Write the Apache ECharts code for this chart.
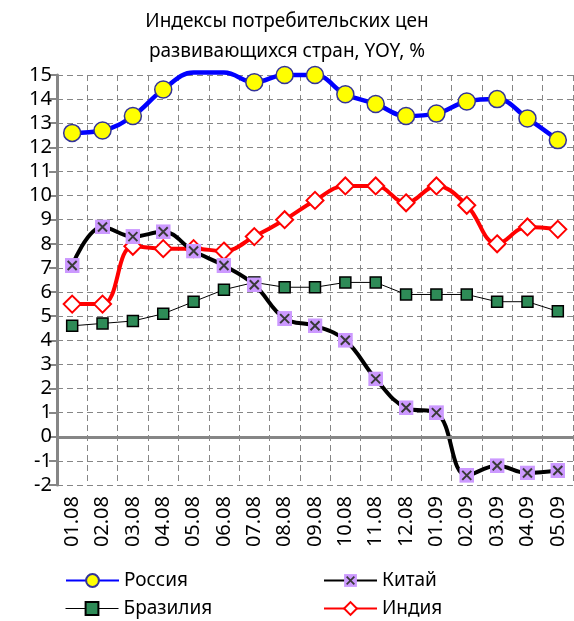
<!DOCTYPE html>
<html lang="ru">
<head>
<meta charset="UTF-8">
<title>Индексы потребительских цен</title>
<style>
  html, body { margin: 0; padding: 0; background: #fff; }
  #main { width: 574px; height: 621px; }
</style>
</head>
<body>
<div id="main"></div>
<script src="https://cdn.jsdelivr.net/npm/echarts@6/dist/echarts.min.js"></script>
<script>
// месяцы
var months = ['01.08', '02.08', '03.08', '04.08', '05.08', '06.08', '07.08', '08.08', '09.08',
              '10.08', '11.08', '12.08', '01.09', '02.09', '03.09', '04.09', '05.09'];

// значения, % г/г
var russia = [12.6, 12.7, 13.3, 14.4, 15.1, 15.1, 14.7, 15.0, 15.0, 14.2, 13.8, 13.3, 13.4, 13.9, 14.0, 13.2, 12.3];
var china  = [7.1, 8.7, 8.3, 8.5, 7.7, 7.1, 6.3, 4.9, 4.6, 4.0, 2.4, 1.2, 1.0, -1.6, -1.2, -1.5, -1.4];
var brazil = [4.6, 4.7, 4.8, 5.1, 5.6, 6.1, 6.4, 6.2, 6.2, 6.4, 6.4, 5.9, 5.9, 5.9, 5.6, 5.6, 5.2];
var india  = [5.5, 5.5, 7.9, 7.8, 7.8, 7.7, 8.3, 9.0, 9.8, 10.4, 10.4, 9.7, 10.4, 9.6, 8.0, 8.7, 8.6];

var yMin = -2, yMax = 15;

var font = 'Noto Sans';
var grey = '#868686';

// квадрат с крестиком для Китая
var chinaSvg = '<svg xmlns="http://www.w3.org/2000/svg" width="15" height="15">' +
    '<rect width="15" height="15" fill="#CC99FF"/>' +
    '<path d="M3 3L12 12M12 3L3 12" stroke="#3a3a3a" stroke-width="2"/></svg>';
var chinaSymbol = 'image://data:image/svg+xml;charset=utf-8,' + encodeURIComponent(chinaSvg);

// точки за пределами шкалы рисуем без маркера
function hideOver(arr) {
    return arr.map(function (v) {
        return v > yMax ? { value: v, symbol: 'none' } : v;
    });
}

var chart = echarts.init(document.getElementById('main'));

function legendAt(name, left, top, extra) {
    var l = {
        data: [name],
        left: left,
        top: top,
        itemWidth: 53,
        itemHeight: 16,
        itemGap: 0,
        textStyle: { fontFamily: font, fontSize: 19, color: '#000', padding: [0, 0, 0, 0] }
    };
    for (var k in extra) l[k] = extra[k];
    return l;
}

chart.setOption({
    animation: false,
    title: {
        text: 'Индексы потребительских цен\nразвивающихся стран, YOY, %',
        left: 'center',
        top: 2,
        textStyle: { fontFamily: font, fontSize: 19, fontWeight: 'normal', color: '#000', lineHeight: 30 }
    },
    legend: [
        legendAt('Россия', 60, 566),
        legendAt('Китай', 318, 566),
        legendAt('Бразилия', 60, 594, { lineStyle: { width: 1 } }),
        legendAt('Индия', 318, 594)
    ],
    grid: { left: 57, right: 1, top: 75, bottom: 136 },
    xAxis: {
        type: 'category',
        data: months,
        boundaryGap: true,
        axisLine: { show: false },
        axisTick: { show: false },
        axisLabel: { rotate: 90, fontFamily: font, fontSize: 20, color: '#000', margin: 11 },
        splitLine: { show: true, lineStyle: { color: grey, type: [6, 4], width: 1 } }
    },
    yAxis: {
        type: 'value',
        min: yMin,
        max: yMax,
        interval: 1,
        axisLine: { show: true, lineStyle: { color: grey, width: 3 } },
        axisTick: { show: true, length: 8, lineStyle: { color: grey, width: 2 } },
        axisLabel: { fontFamily: font, fontSize: 20, color: '#000', margin: 5 },
        splitLine: { show: true, lineStyle: { color: grey, type: [6, 4], width: 1 } }
    },
    series: [{
        name: 'Бразилия',
        type: 'line',
        data: brazil,
        symbol: 'rect',
        symbolSize: 11,
        lineStyle: { color: '#000', width: 1 },
        itemStyle: { color: '#2E8B57', borderColor: '#000', borderWidth: 1.5 },
        markLine: {
            silent: true,
            symbol: ['none', 'none'],
            label: { show: false },
            lineStyle: { color: grey, type: 'solid', width: 3 },
            data: [{ yAxis: 0 }]
        },
        z: 2
    }, {
        name: 'Индия',
        type: 'line',
        data: india,
        smooth: 0.4,
        symbol: 'diamond',
        symbolSize: 17,
        lineStyle: { color: '#FF0000', width: 4 },
        itemStyle: { color: '#fff', borderColor: '#FF0000', borderWidth: 2 },
        z: 3
    }, {
        name: 'Китай',
        type: 'line',
        data: china,
        smooth: 0.4,
        symbol: chinaSymbol,
        symbolSize: 15,
        lineStyle: { color: '#000', width: 4 },
        itemStyle: { color: '#000' },
        z: 4
    }, {
        name: 'Россия',
        type: 'line',
        data: hideOver(russia),
        clip: false,
        smooth: 0.4,
        symbol: 'circle',
        symbolSize: 17,
        lineStyle: { color: '#0000FF', width: 4.5 },
        itemStyle: { color: '#FFFF00', borderColor: '#333399', borderWidth: 1.5 },
        z: 5
    }]
});
</script>
</body>
</html>
